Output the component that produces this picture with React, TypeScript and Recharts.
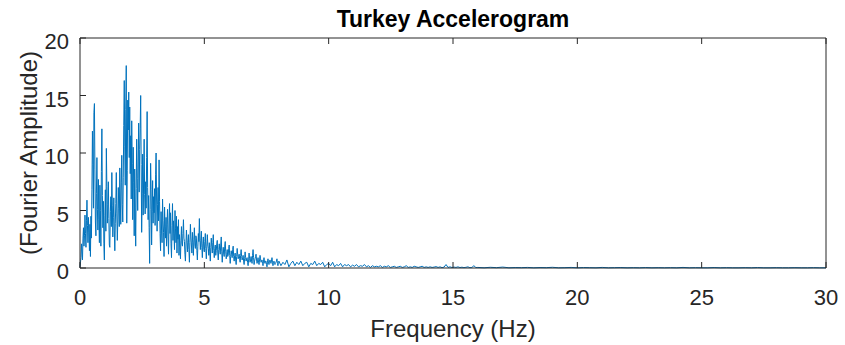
import React from 'react';
import { LineChart, Line, XAxis, YAxis } from 'recharts';

// Fourier amplitude spectrum of the Turkey accelerogram.
// Sampled on four frequency bands, each with its own spacing (Hz).
const bandPeak = { start: 0, step: 0.02 };
const ampPeak = [
  0.1, 0.5, 0.9, 2.1, 1.4, 0.7, 2.6, 3.5, 1.9, 2.8, 4.6, 3.0, 1.8, 4.1, 5.9, 3.7, 2.2, 4.4, 3.1, 1.5,
  3.8, 1.0, 4.5, 2.6, 6.8, 11.9, 9.0, 5.2, 13.5, 14.3, 8.6, 4.0, 2.8, 6.5, 9.6, 5.1, 3.3, 7.7, 4.2, 2.2,
  7.2, 5.0, 1.9, 8.4, 12.1, 6.3, 3.5, 5.8, 2.1, 0.7, 4.6, 6.8, 3.2, 10.4, 7.1, 3.9, 5.5, 7.5, 4.3, 2.0,
  1.8, 4.9, 6.2, 3.6, 8.3, 5.4, 2.7, 4.4, 6.1, 3.3, 1.5, 3.9, 5.6, 8.3, 4.7, 2.4, 4.0, 7.0, 5.2, 3.6,
  8.7, 6.0, 3.8, 7.4, 9.8, 5.5, 4.0, 7.9, 12.4, 16.3, 10.6, 7.2, 13.8, 17.6, 3.9, 8.5, 14.6, 12.0, 15.3, 9.6,
  14.0, 8.2, 11.5, 6.0, 12.8, 9.1, 4.2, 10.5, 7.4, 2.8, 8.6, 5.3, 1.9, 6.9, 11.2, 7.8, 5.0, 9.3, 12.6, 6.6,
  10.3, 12.1, 15.0, 9.0, 3.1, 6.5, 9.9, 4.6, 8.0, 11.2, 6.4, 4.7, 7.5, 5.2, 9.6, 13.6, 7.0, 4.2, 6.3, 3.5,
  0.4, 5.1, 9.1, 6.8, 2.0, 4.9, 7.6, 3.9, 6.2, 4.8, 6.9, 3.7, 8.1, 10.0, 6.0, 3.2, 5.5, 7.0, 4.1, 9.4,
  5.8, 3.0, 1.5, 4.9, 3.3, 2.2, 6.0, 4.1, 3.1, 1.0, 5.3, 3.6, 2.6, 4.4, 1.9, 3.8, 5.1, 2.7, 1.2, 4.0,
  5.6, 3.0, 4.8, 2.1, 0.9, 3.7, 5.6, 2.4, 4.1, 3.0, 1.6, 5.0, 3.4, 2.2, 4.5, 1.3, 3.6, 2.5, 4.2, 1.1,
];

const bandLow = { start: 4, step: 0.02 };
const ampLow = [
  2.9, 1.8, 0.8, 2.4, 3.6, 2.1, 1.9, 3.0, 4.2, 2.6, 2.3, 1.2, 0.6, 2.0, 3.3, 2.4, 1.4, 2.2, 2.9, 1.6,
  0.5, 2.2, 3.8, 2.7, 2.0, 1.3, 3.1, 2.2, 1.1, 2.5, 3.5, 2.0, 1.7, 2.8, 2.6, 1.5, 0.7, 1.9, 3.0, 2.3,
  4.3, 2.6, 1.6, 2.4, 3.2, 1.8, 0.9, 2.1, 2.7, 1.6, 1.4, 2.3, 3.0, 1.7, 0.8, 1.9, 2.9, 2.0, 1.7, 1.1,
  2.2, 1.4, 0.6, 1.8, 2.6, 1.9, 1.3, 2.2, 2.9, 1.5, 0.9, 1.7, 2.0, 1.1, 1.5, 2.1, 2.4, 1.3, 0.7, 1.6,
  2.1, 1.5, 1.2, 2.0, 2.7, 1.4, 0.5, 1.3, 1.8, 1.2, 1.0, 1.9, 2.3, 1.4, 0.8, 1.2, 1.6, 1.0, 1.1, 1.7,
  2.0, 1.1, 0.4, 1.0, 1.5, 1.2, 0.9, 1.6, 1.9, 1.0, 0.6, 1.1, 1.3, 0.7, 0.3, 1.0, 1.7, 1.2, 0.8, 1.0,
  1.2, 0.8, 0.5, 1.1, 1.6, 1.0, 0.7, 0.9, 1.1, 0.6, 0.3, 0.8, 1.4, 0.9, 0.6, 0.8, 0.9, 0.5, 0.2, 0.7,
  1.3, 0.8, 0.5, 0.7, 1.0, 0.6, 0.4, 1.1, 1.6, 0.9, 0.3, 0.6, 0.8, 1.0, 1.2, 0.7, 0.4, 0.6, 0.9, 0.5,
  0.3, 0.7, 1.1, 0.8, 0.5, 0.6, 0.7, 0.4, 0.2, 0.6, 0.9, 0.5, 0.4, 0.6, 0.6, 0.3, 0.1, 0.5, 0.8, 0.4,
  0.3, 0.5, 0.7, 0.5, 0.4, 0.6, 0.9, 0.5, 0.2, 0.4, 0.6, 0.4, 0.3, 0.4, 0.5, 0.6, 0.8, 0.4, 0.2, 0.5,
];

const bandMid = { start: 8, step: 0.08 };
const ampMid = [
  0.6, 0.2, 0.5, 0.3, 0.7, 0.1, 0.4, 0.6, 0.2, 0.5,
  0.3, 0.6, 0.2, 0.4, 0.5, 0.1, 0.4, 0.3, 0.6, 0.2,
  0.4, 0.3, 0.5, 0.1, 0.3, 0.4, 0.2, 0.5, 0.1, 0.3,
  0.2, 0.4, 0.1, 0.3, 0.2, 0.3, 0.1, 0.25, 0.15, 0.3,
  0.1, 0.2, 0.15, 0.3, 0.1, 0.2, 0.05, 0.2, 0.1, 0.15,
  0.1, 0.2, 0.05, 0.15, 0.1, 0.2, 0.05, 0.1, 0.15, 0.05,
  0.1, 0.15, 0.05, 0.1, 0.2, 0.05, 0.1, 0.05, 0.15, 0.1,
  0.05, 0.1, 0.15, 0.05, 0.1, 0.05, 0.1, 0.05, 0.08, 0.12,
  0.05, 0.1, 0.03, 0.08, 0.3, 0.05, 0.1, 0.04, 0.08, 0.05,
  0.1, 0.04, 0.07, 0.03, 0.06, 0.1, 0.03, 0.05, 0.2, 0.04,
];

const bandHigh = { start: 16, step: 0.25 };
const ampHigh = [
  0.05, 0.02, 0.06, 0.03, 0.08, 0.02, 0.04, 0.03, 0.05, 0.02,
  0.04, 0.03, 0.06, 0.02, 0.03, 0.05, 0.02, 0.04, 0.03, 0.02,
  0.05, 0.02, 0.03, 0.04, 0.02, 0.03, 0.02, 0.04, 0.02, 0.03,
  0.02, 0.03, 0.02, 0.05, 0.02, 0.03, 0.02, 0.02, 0.04, 0.02,
  0.03, 0.02, 0.02, 0.03, 0.02, 0.04, 0.02, 0.02, 0.03, 0.02,
  0.02, 0.03, 0.02, 0.02, 0.03, 0.02, 0.02,
];

const xTicks = [0, 5, 10, 15, 20, 25, 30];
const yTicks = [0, 5, 10, 15, 20];

const titleText = 'Turkey Accelerogram';
const xLabelText = 'Frequency (Hz)';
const yLabelText = '(Fourier Amplitude)';

const toRows = (band: { start: number; step: number }, amps: number[]) =>
  amps.map((a, i) => ({ f: +(band.start + i * band.step).toFixed(3), a }));

const data = [
  ...toRows(bandPeak, ampPeak),
  ...toRows(bandLow, ampLow),
  ...toRows(bandMid, ampMid),
  ...toRows(bandHigh, ampHigh),
];

const FONT = '"Liberation Sans", Arial, Helvetica, sans-serif';
const AXIS = '#262626';
const LINE = '#0072BD';
const TICK_LEN = 6;

const BottomTick = ({ x, y, payload }: any) => (
  <g>
    <line x1={x} x2={x} y1={y} y2={y - TICK_LEN} stroke={AXIS} strokeWidth={1} />
    <text x={x} y={y + 37} textAnchor="middle" fontSize={22} fontFamily={FONT} fill={AXIS}>
      {payload.value}
    </text>
  </g>
);

const TopTick = ({ x, y }: any) => (
  <line x1={x} x2={x} y1={y} y2={y + TICK_LEN} stroke={AXIS} strokeWidth={1} />
);

const LeftTick = ({ x, y, payload }: any) => (
  <g>
    <line x1={x} x2={x + TICK_LEN} y1={y} y2={y} stroke={AXIS} strokeWidth={1} />
    <text x={x - 11} y={y + 11} textAnchor="end" fontSize={22} fontFamily={FONT} fill={AXIS}>
      {payload.value}
    </text>
  </g>
);

const RightTick = ({ x, y }: any) => (
  <line x1={x} x2={x - TICK_LEN} y1={y} y2={y} stroke={AXIS} strokeWidth={1} />
);

const TitleLabel = ({ viewBox }: any) => (
  <text
    x={viewBox.x + viewBox.width / 2}
    y={27}
    textAnchor="middle"
    fontSize={23}
    fontWeight="bold"
    fontFamily={FONT}
    fill="#000"
  >
    {titleText}
  </text>
);

const XLabel = ({ viewBox }: any) => (
  <text
    x={viewBox.x + viewBox.width / 2}
    y={337}
    textAnchor="middle"
    fontSize={24}
    fontFamily={FONT}
    fill={AXIS}
  >
    {xLabelText}
  </text>
);

const YLabel = ({ viewBox }: any) => {
  const cx = 28;
  const cy = viewBox.y + viewBox.height / 2;
  return (
    <text
      x={cx}
      y={cy}
      transform={`rotate(-90 ${cx} ${cy})`}
      textAnchor="middle"
      dominantBaseline="central"
      fontSize={24}
      fontFamily={FONT}
      fill={AXIS}
    >
      {yLabelText}
    </text>
  );
};

export default function App() {
  return (
    <div style={{ position: 'absolute', left: 0, top: 0, background: '#fff' }}>
      <LineChart
        width={845}
        height={345}
        data={data}
        margin={{ top: 37, right: 18, bottom: 0, left: 0 }}
      >
        <XAxis
          xAxisId="bottom"
          dataKey="f"
          type="number"
          domain={[0, 30]}
          ticks={xTicks}
          orientation="bottom"
          height={77}
          tickSize={0}
          tickMargin={0}
          tickLine={false}
          axisLine={{ stroke: AXIS, strokeWidth: 1 }}
          tick={<BottomTick />}
          interval={0}
          label={<XLabel />}
        />
        <XAxis
          xAxisId="top"
          dataKey="f"
          type="number"
          domain={[0, 30]}
          ticks={xTicks}
          orientation="top"
          height={1}
          tickSize={0}
          tickMargin={0}
          tickLine={false}
          axisLine={{ stroke: AXIS, strokeWidth: 1 }}
          tick={<TopTick />}
          interval={0}
          label={<TitleLabel />}
        />
        <YAxis
          yAxisId="left"
          type="number"
          domain={[0, 20]}
          ticks={yTicks}
          orientation="left"
          width={80}
          tickSize={0}
          tickMargin={0}
          tickLine={false}
          axisLine={{ stroke: AXIS, strokeWidth: 1 }}
          tick={<LeftTick />}
          interval={0}
          label={<YLabel />}
        />
        <YAxis
          yAxisId="right"
          type="number"
          domain={[0, 20]}
          ticks={yTicks}
          orientation="right"
          width={1}
          tickSize={0}
          tickMargin={0}
          tickLine={false}
          axisLine={{ stroke: AXIS, strokeWidth: 1 }}
          tick={<RightTick />}
          interval={0}
        />
        <Line
          xAxisId="bottom"
          yAxisId="left"
          dataKey="a"
          type="linear"
          stroke={LINE}
          strokeWidth={1}
          dot={false}
          isAnimationActive={false}
        />
      </LineChart>
    </div>
  );
}
